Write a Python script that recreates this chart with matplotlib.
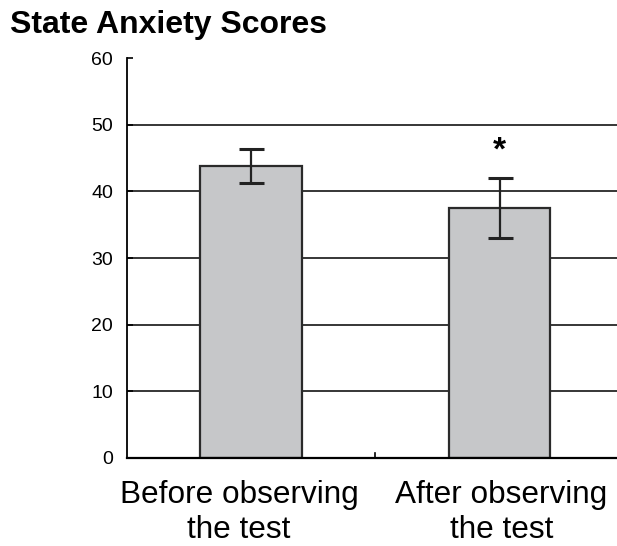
import matplotlib
matplotlib.use("Agg")
import matplotlib.pyplot as plt
from matplotlib.transforms import ScaledTranslation

categories = ["Before observing\nthe test", "After observing\nthe test"]
means = [43.8, 37.45]
errors = [2.55, 4.5]
yticks = [0, 10, 20, 30, 40, 50, 60]
gridlines = [10, 20, 30, 40, 50]
star_y = 46.0

plt.rcParams['font.family'] = ['Liberation Sans', 'DejaVu Sans']

fig = plt.figure(figsize=(6.17, 5.46), dpi=100)
ax = fig.add_axes([127/617, 88/546, 490/617, 400/546])

for g in gridlines:
    ax.axhline(g, color='black', linewidth=1.1, zorder=0)

x = list(range(len(categories)))
ax.bar(x, means, width=0.41, color='#c6c7c9', edgecolor='#2a2a2a', linewidth=1.6, zorder=2)
ax.errorbar(x, means, yerr=errors, fmt='none', ecolor='#222222', elinewidth=1.6,
            capsize=9, capthick=2.2, zorder=3)

ax.text(1, star_y, '*', ha='center', va='center', fontsize=24, fontweight='bold')

ax.set_xlim(-0.5, 1.473)
ax.set_ylim(0, 60)
ax.set_yticks(yticks)
ax.set_yticklabels([str(t) for t in yticks], fontsize=14)
ax.tick_params(axis='y', direction='in', length=4, width=1.2, pad=10)
ax.set_xticks(x)
ax.set_xticklabels(categories, fontsize=22.7, linespacing=1.2)
ax.tick_params(axis='x', length=0, pad=16)

# small horizontal offsets of the category labels as in the reference
for lbl, dx in zip(ax.get_xticklabels(), [-12, 2]):
    lbl.set_transform(lbl.get_transform() + ScaledTranslation(dx/100, 0, fig.dpi_scale_trans))

# separator tick between categories
ax.plot([0.5, 0.5], [0, 0.8], color='black', linewidth=1.2, zorder=3, clip_on=False)

for s in ['top', 'right']:
    ax.spines[s].set_visible(False)
ax.spines['left'].set_linewidth(1.3)
ax.spines['bottom'].set_linewidth(1.6)

fig.text(10/617, 1 - 10/546, 'State Anxiety Scores', ha='left', va='top',
         fontsize=23, fontweight='bold')

fig.savefig('out.png', dpi=100)
